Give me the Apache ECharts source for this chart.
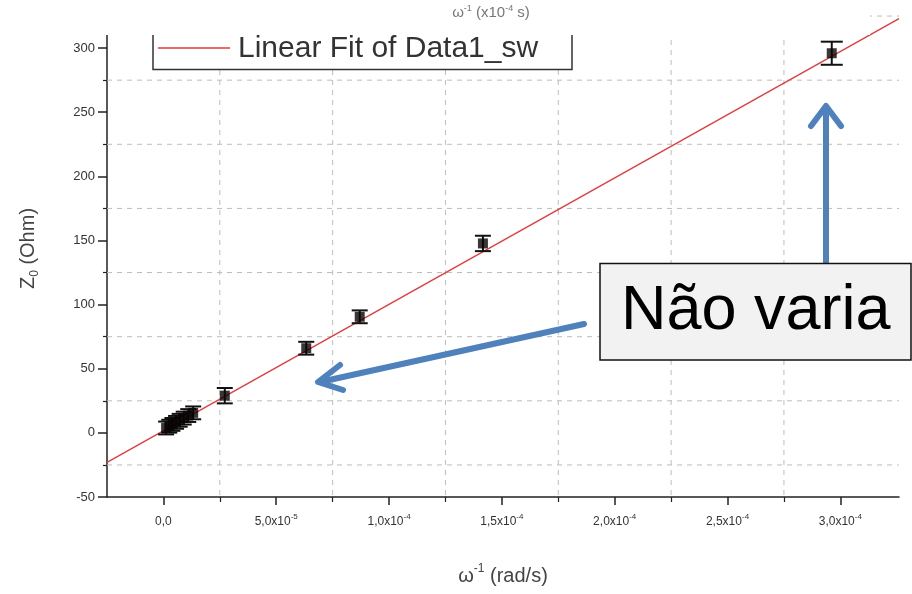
<!DOCTYPE html>
<html>
<head>
<meta charset="utf-8">
<title>Z0 vs omega^-1</title>
<script src="https://cdn.jsdelivr.net/npm/echarts@6/dist/echarts.min.js"></script>
<style>
  html, body { margin: 0; padding: 0; background: #fff; }
  #chart { width: 912px; height: 594px; }
</style>
</head>
<body>
<div id="chart"></div>
<script>
// pontos medidos (omega^-1 em rad/s, Z0 em Ohm, barra de erro)
var omegaInv = [1.2e-6, 2.6e-6, 4.0e-6, 5.6e-6, 7.2e-6, 9.0e-6, 1.1e-5, 1.32e-5, 2.72e-5, 6.33e-5, 8.70e-5, 1.416e-4, 2.962e-4]
var z0 = [3.8, 5.2, 6.6, 8.2, 9.8, 11.5, 13.5, 15.6, 29, 66, 90.5, 147.7, 296]
var z0Err = [5, 5, 5, 5, 5, 5, 5, 5, 6, 5, 5, 6, 9]

// reta do ajuste linear (extremos)
var fitX = [-2.5e-5, 3.26e-4]
var fitY = [-23, 323]

// eixos
var xTickValues = [0, 5e-5, 1e-4, 1.5e-4, 2e-4, 2.5e-4, 3e-4]
var xTickLabels = ['0,0', '5,0x10|-5', '1,0x10|-4', '1,5x10|-4', '2,0x10|-4', '2,5x10|-4', '3,0x10|-4']
var xMinorValues = [2.5e-5, 7.5e-5, 1.25e-4, 1.75e-4, 2.25e-4, 2.75e-4]
var yTickValues = [-50, 0, 50, 100, 150, 200, 250, 300]
var yMinorValues = [-25, 25, 75, 125, 175, 225, 275]
var xGridValues = [2.5e-5, 7.5e-5, 1.25e-4, 1.75e-4, 2.25e-4, 2.75e-4]
var yGridValues = [-25, 25, 75, 125, 175, 225, 275, 325]

var chart = echarts.init(document.getElementById('chart'))

var pointData = omegaInv.map(function (x, i) { return [x, z0[i], z0Err[i]] })
var fitData = fitX.map(function (x, i) { return [x, fitY[i]] })

// grade: [valor, 0 = vertical | 1 = horizontal]
var gridData = []
xGridValues.forEach(function (v) { gridData.push([v, 0, 0]) })
yGridValues.forEach(function (v) { gridData.push([0, v, 1]) })

var labelFont = 'Arial, "Liberation Sans", sans-serif'
var blue = '#4f81bd'

var option = {
  animation: false,
  backgroundColor: '#fff',
  grid: { left: 107, right: 13, top: 0, bottom: 97, containLabel: false },
  xAxis: [
    {
      type: 'value',
      min: -2.5e-5,
      max: 3.26e-4,
      splitLine: { show: false },
      axisLine: { show: true, onZero: false, lineStyle: { color: '#222', width: 1.5 } },
      axisTick: { show: true, length: 8, customValues: xTickValues, lineStyle: { color: '#222', width: 1.5 } },
      axisLabel: {
        customValues: xTickValues,
        margin: 16,
        formatter: function (val) {
          var idx = 0
          for (var i = 0; i < xTickValues.length; i++) {
            if (Math.abs(xTickValues[i] - val) < 1e-9) idx = i
          }
          var parts = xTickLabels[idx].split('|')
          if (parts.length === 1) return '{n|' + parts[0] + '}'
          return '{n|' + parts[0] + '}{s|' + parts[1] + '}'
        },
        rich: {
          n: { fontSize: 12, color: '#333', fontFamily: labelFont, lineHeight: 18 },
          s: { fontSize: 8, color: '#333', fontFamily: labelFont, lineHeight: 10, verticalAlign: 'top' }
        }
      },
      name: '{n|ω}{s|-1}{n| (rad/s)}',
      nameLocation: 'middle',
      nameGap: 66,
      nameTextStyle: {
        rich: {
          n: { fontSize: 20, color: '#444', fontFamily: labelFont, lineHeight: 26 },
          s: { fontSize: 12, color: '#444', fontFamily: labelFont, lineHeight: 12, verticalAlign: 'top' }
        }
      }
    },
    {
      type: 'value',
      min: -2.5e-5,
      max: 3.26e-4,
      position: 'bottom',
      splitLine: { show: false },
      axisLine: { show: false, onZero: false },
      axisLabel: { show: false },
      axisTick: { show: true, length: 5, customValues: xMinorValues, lineStyle: { color: '#222', width: 1.2 } }
    }
  ],
  yAxis: [
    {
      type: 'value',
      min: -50,
      max: 337.5,
      splitLine: { show: false },
      axisLine: { show: true, onZero: false, lineStyle: { color: '#222', width: 1.5 } },
      axisTick: { show: true, length: 9, customValues: yTickValues, lineStyle: { color: '#222', width: 1.5 } },
      axisLabel: {
        customValues: yTickValues,
        margin: 12,
        fontSize: 13,
        color: '#333',
        fontFamily: labelFont
      },
      name: '{n|Z}{s|0}{n| (Ohm)}',
      nameLocation: 'middle',
      nameGap: 66,
      nameTextStyle: {
        rich: {
          n: { fontSize: 20, color: '#444', fontFamily: labelFont, lineHeight: 26 },
          s: { fontSize: 12, color: '#444', fontFamily: labelFont, lineHeight: 12, verticalAlign: 'bottom' }
        }
      }
    },
    {
      type: 'value',
      min: -50,
      max: 337.5,
      position: 'left',
      splitLine: { show: false },
      axisLine: { show: false, onZero: false },
      axisLabel: { show: false },
      axisTick: { show: true, length: 4, customValues: yMinorValues, lineStyle: { color: '#222', width: 1.2 } }
    }
  ],
  series: [
    {
      // grade tracejada nos ticks menores
      type: 'custom',
      data: gridData,
      silent: true,
      z: 1,
      renderItem: function (params, api) {
        var cs = params.coordSys
        var p = api.coord([api.value(0), api.value(1)])
        var shape = api.value(2) === 0
          ? { x1: p[0], y1: cs.y, x2: p[0], y2: cs.y + cs.height }
          : { x1: cs.x, y1: p[1], x2: cs.x + cs.width, y2: p[1] }
        return {
          type: 'line',
          shape: shape,
          style: { stroke: '#bdbdbd', lineWidth: 1, lineDash: [5, 5] }
        }
      }
    },
    {
      name: 'Linear Fit of Data1_sw',
      type: 'line',
      data: fitData,
      showSymbol: false,
      silent: true,
      z: 3,
      lineStyle: { color: '#e23b3b', width: 1.3 }
    },
    {
      // barras de erro
      type: 'custom',
      data: pointData,
      encode: { x: 0, y: 1 },
      z: 4,
      renderItem: function (params, api) {
        var x = api.value(0)
        var y = api.value(1)
        var e = api.value(2)
        var hi = api.coord([x, y + e])
        var lo = api.coord([x, y - e])
        var w = e > 8 ? 11 : 8
        var st = { stroke: '#111', lineWidth: 2 }
        return {
          type: 'group',
          children: [
            { type: 'line', shape: { x1: hi[0], y1: hi[1], x2: lo[0], y2: lo[1] }, style: st },
            { type: 'line', shape: { x1: hi[0] - w, y1: hi[1], x2: hi[0] + w, y2: hi[1] }, style: st },
            { type: 'line', shape: { x1: lo[0] - w, y1: lo[1], x2: lo[0] + w, y2: lo[1] }, style: st }
          ]
        }
      }
    },
    {
      type: 'scatter',
      data: pointData,
      symbol: 'rect',
      symbolSize: 10,
      z: 5,
      itemStyle: { color: '#0a0505' }
    }
  ],
  graphic: [
    // faixa branca no topo (imagem cortada)
    { type: 'rect', left: 0, top: 0, z: 50, shape: { width: 870, height: 35 }, style: { fill: '#fff' } },
    {
      type: 'text', z: 51, x: 491, y: 13,
      style: {
        text: '{n|ω}{s|-1}{n| (x10}{s|-4}{n| s)}',
        align: 'center', verticalAlign: 'middle',
        rich: {
          n: { fontSize: 15, fill: '#777', fontFamily: labelFont, lineHeight: 18 },
          s: { fontSize: 9, fill: '#777', fontFamily: labelFont, lineHeight: 9, verticalAlign: 'top' }
        }
      }
    },
    // legenda
    {
      type: 'polyline', z: 40,
      shape: { points: [[153, 30], [153, 69.5], [572, 69.5], [572, 30]] },
      style: { stroke: '#333', lineWidth: 1.5, fill: '#fff' }
    },
    {
      type: 'line', z: 41,
      shape: { x1: 158, y1: 48, x2: 230, y2: 48 },
      style: { stroke: '#e23b3b', lineWidth: 1.5 }
    },
    {
      type: 'text', z: 41, x: 238, y: 49,
      style: { text: 'Linear Fit of Data1_sw', fontSize: 30, fill: '#333', fontFamily: labelFont, verticalAlign: 'middle' }
    },
    // anotacao
    {
      type: 'line', z: 60,
      shape: { x1: 826, y1: 262, x2: 826, y2: 108 },
      style: { stroke: blue, lineWidth: 6, lineCap: 'round' }
    },
    {
      type: 'polyline', z: 60,
      shape: { points: [[811, 126], [826, 106], [841, 126]] },
      style: { stroke: blue, lineWidth: 6, lineCap: 'round', lineJoin: 'round', fill: null }
    },
    {
      type: 'line', z: 60,
      shape: { x1: 584, y1: 324, x2: 320, y2: 382 },
      style: { stroke: blue, lineWidth: 6, lineCap: 'round' }
    },
    {
      type: 'polyline', z: 60,
      shape: { points: [[340, 365], [318, 382], [343, 390]] },
      style: { stroke: blue, lineWidth: 6, lineCap: 'round', lineJoin: 'round', fill: null }
    },
    {
      type: 'rect', z: 61,
      shape: { x: 600, y: 263.5, width: 311, height: 96.5 },
      style: { fill: '#f2f2f2', stroke: '#111', lineWidth: 1.5 }
    },
    {
      type: 'text', z: 62, x: 621, y: 312,
      style: { text: 'Não varia', fontSize: 63, fill: '#000', fontFamily: labelFont, verticalAlign: 'middle' }
    }
  ]
}

chart.setOption(option)
</script>
</body>
</html>
